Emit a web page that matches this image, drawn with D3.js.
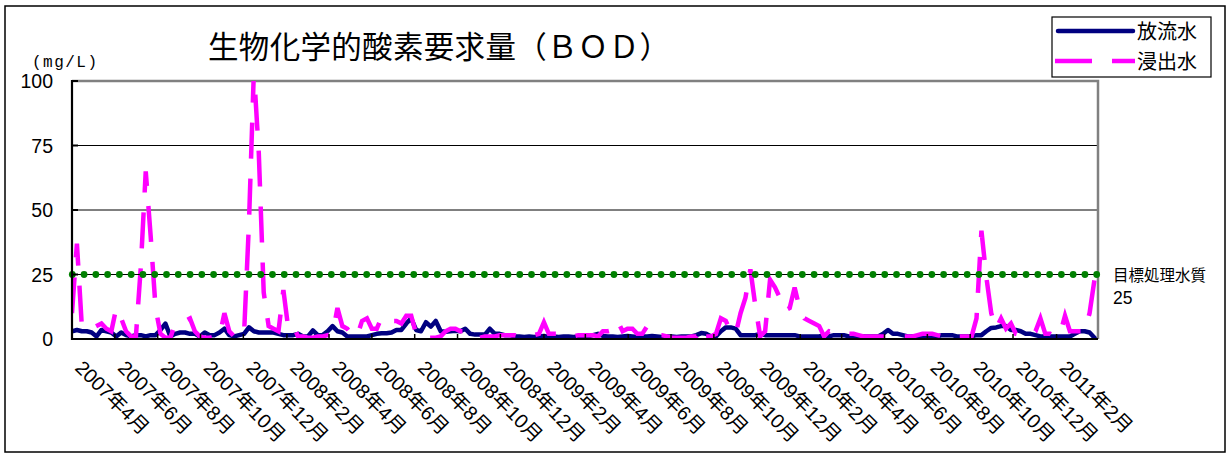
<!DOCTYPE html>
<html><head><meta charset="utf-8">
<script src="https://cdn.jsdelivr.net/npm/d3@7"></script>
<style>html,body{margin:0;padding:0;background:#fff;}svg{display:block;}</style>
</head><body>
<svg id="chart" width="1231" height="455"></svg>
<script>
// ---- data ----
const titleText = "生物化学的酸素要求量（ＢＯＤ）";
const unitText = "(mg/L)";
const seriesNames = ["放流水", "浸出水"];
const startDate = "2007-04-01";   // first weekly sample
const axisStart = "2007-04-01";
const axisEnd = "2011-04-01";
const yTicks = [0, 25, 50, 75, 100];
const xTickLabels = ["2007年4月","2007年6月","2007年8月","2007年10月","2007年12月",
  "2008年2月","2008年4月","2008年6月","2008年8月","2008年10月","2008年12月",
  "2009年2月","2009年4月","2009年6月","2009年8月","2009年10月","2009年12月",
  "2010年2月","2010年4月","2010年6月","2010年8月","2010年10月","2010年12月","2011年2月"];
const targetLabel = "目標処理水質";
const targetValue = 25;
const targetMarkerCount = 88;

// 放流水 (weekly)
const discharge = [
  3,3.5,3,3,2.5,1,3.5,3,2.5,1,
  2.5,1.5,1,1.5,1.5,1,1.5,1.5,3.5,6,
  1,2,2.5,2.5,2,2,1,2.5,1.5,1.5,
  2.5,4,1.5,1,1.5,2,4.5,3,2.5,2.5,
  2.5,2.5,2,1.5,1.5,1.5,2,1,1,3.3,
  1.5,1.5,3,5,3,2.5,1,1,1,1,
  1,1.5,2,2.2,2.2,2.5,3.5,3.5,6,8,
  3.5,3,6.5,4.8,7,3,2.8,3,3.2,3,
  4,2,1.7,1.7,1.7,4,2,2,1.5,1.5,
  1,1,0.8,1,0.8,1,1.2,0.8,1,0.8,
  1,1,0.8,1,1.2,1,1.5,2,1.2,1,
  1,0.8,1,1.2,1,0.8,1,1,1.2,1,
  0.8,1,1,0.8,1,1,1,1.5,2.3,2,
  1,1,3,4.5,4.5,4,1.5,1.5,1.5,1.5,
  2,1.5,1.5,1.5,1.5,1.5,1.5,1.5,1,1,
  1,1,1,1.5,1,1.5,1.5,1.5,1,1,
  1,1,1,1,1,2,3.5,2,2,1.5,
  1,1,1,1,1,1,1,1.5,1.5,1.5,
  1,1,1,1,1.5,1.5,3,4.3,4.5,5,
  5,3.5,3.5,3,2,2,1.5,1,1,1,
  1,1,1,1,2,3,3,2.5,0.5
];
// 浸出水 (weekly)
const leachate = [
  10,37,5,4,4,5,6,4,3,12,
  8,3,1,1,28,65,40,12,2,0.5,
  0.5,6,7,7,8,3,1,0.5,0.5,1,
  1,10,3,1,0.5,2,45,104,72,18,
  5,4,3,19,4,5,1,1,0.5,0.5,
  1,1,1.5,2,12,5,4,1.5,1,7,
  8,4,4,8.5,8.5,7,7,6,9,9,
  2,0.5,0.5,0.5,0.5,1,3,4,4,3,
  3,1,0.5,0.5,1,1,1,1.5,1.5,1.5,
  1.5,1,1,1.5,1.5,2,6.5,2,2,2,
  2,1.5,1,1.5,1.5,1.5,1.5,1,3,3,
  3.5,7,3,4,4,2,2,5,2,1.5,
  1.5,1,0.5,0.5,0.5,0.5,1,1,4.5,1,
  1,2,8,7,3,2,10,16,27,13,
  1,3,23,20,16,11,12,20,12,8,
  7,6,5,1,3,2.5,2.5,2.5,2,2,
  1.5,1,1,1,1,1,1,1,1.5,1,
  1,1,1.5,2,2,2,1.5,1,1,1.5,
  1,1,1,1,8,42,24,10,4,8,
  4,6,2,1.5,1.5,1.5,3,8,2,2,
  1,2,9,3,3,3,3,10,23
];

// ---- layout ----
const svg = d3.select("#chart");
const plot = {left: 72, right: 1098, top: 81, bottom: 339};
const parse = d3.timeParse("%Y-%m-%d");
const x = d3.scaleTime().domain([parse(axisStart), parse(axisEnd)]).range([plot.left, plot.right]);
const y = d3.scaleLinear().domain([0, 100]).range([plot.bottom, plot.top]);
const t0 = parse(startDate);
const dateOf = i => d3.timeDay.offset(t0, 7 * i);
const numFont = "'Liberation Sans', Arial, 'Noto Sans CJK JP', sans-serif";
const jpFont = "'Noto Sans CJK JP', 'Liberation Sans', sans-serif";

// outer frame
svg.append("rect").attr("x", 5).attr("y", 6).attr("width", 1220).attr("height", 446)
  .attr("fill", "#fff").attr("stroke", "#000").attr("stroke-width", 1.5);

// clip
svg.append("defs").append("clipPath").attr("id", "clip")
  .append("rect").attr("x", plot.left).attr("y", plot.top)
  .attr("width", plot.right - plot.left).attr("height", plot.bottom - plot.top);

// gridlines
svg.append("g").selectAll("line").data(yTicks.filter(v => v > 0 && v < 100)).join("line")
  .attr("x1", plot.left).attr("x2", plot.right)
  .attr("y1", d => y(d)).attr("y2", d => y(d))
  .attr("stroke", "#000").attr("stroke-width", 1);

// plot border top/right (gray)
svg.append("path")
  .attr("d", `M${plot.left},${y(100)}H${plot.right}V${plot.bottom}`)
  .attr("fill", "none").attr("stroke", "#808080").attr("stroke-width", 2.5);

// series
const g = svg.append("g").attr("clip-path", "url(#clip)");
const line = d3.line().x((d, i) => x(dateOf(i))).y(d => y(d));
g.append("path").datum(discharge).attr("d", line)
  .attr("fill", "none").attr("stroke", "#000080").attr("stroke-width", 4.5)
  .attr("stroke-linejoin", "round").attr("stroke-linecap", "round");
g.append("path").datum(leachate).attr("d", line)
  .attr("fill", "none").attr("stroke", "#ff00ff").attr("stroke-width", 4.5)
  .attr("stroke-dasharray", "36,20").attr("stroke-linejoin", "miter");

// target line with markers
const xm = d3.scaleLinear().domain([0, targetMarkerCount - 1]).range([x.range()[0] + 0.3, x.range()[1] - 1.3]);
svg.append("line").attr("x1", plot.left).attr("x2", plot.right)
  .attr("y1", y(targetValue)).attr("y2", y(targetValue))
  .attr("stroke", "#000").attr("stroke-width", 1.2);
svg.append("g").selectAll("circle").data(d3.range(targetMarkerCount)).join("circle")
  .attr("cx", d => xm(d)).attr("cy", y(targetValue)).attr("r", 3.4)
  .attr("fill", "#008000");

// axes lines
svg.append("line").attr("x1", plot.left).attr("x2", plot.left).attr("y1", plot.top - 1).attr("y2", plot.bottom + 1)
  .attr("stroke", "#000").attr("stroke-width", 2.2);
svg.append("line").attr("x1", plot.left).attr("x2", plot.right).attr("y1", plot.bottom).attr("y2", plot.bottom)
  .attr("stroke", "#000").attr("stroke-width", 2.2);

// y ticks & labels
svg.append("g").selectAll("line").data(yTicks).join("line")
  .attr("x1", plot.left).attr("x2", plot.left + 6).attr("y1", d => y(d)).attr("y2", d => y(d))
  .attr("stroke", "#000").attr("stroke-width", 2);
svg.append("g").selectAll("text").data(yTicks).join("text")
  .attr("x", 53).attr("y", d => y(d) + 7).attr("text-anchor", "end")
  .attr("font-family", numFont).attr("font-size", 19.5).attr("fill", "#000")
  .text(d => d);

// x ticks & labels
const labelDate = s => { const m = s.match(/(\d+)年(\d+)月/); return new Date(+m[1], +m[2] - 1, 1); };
svg.append("g").selectAll("line").data(xTickLabels).join("line")
  .attr("x1", d => x(labelDate(d))).attr("x2", d => x(labelDate(d)))
  .attr("y1", plot.bottom).attr("y2", plot.bottom - 5)
  .attr("stroke", "#000").attr("stroke-width", 1.5);
svg.append("g").selectAll("text").data(xTickLabels).join("text")
  .attr("transform", d => `translate(${x(labelDate(d)) + 2},369) rotate(45)`)
  .attr("font-family", numFont).attr("font-size", 19.8).attr("fill", "#000")
  .text(d => d);

// unit
svg.append("text").attr("x", 32).attr("y", 67).attr("font-family", "'Liberation Mono', monospace")
  .attr("font-size", 16).attr("textLength", 65).attr("lengthAdjust", "spacing").text(unitText);

// title
svg.append("text").attr("x", 208).attr("y", 58).attr("font-family", jpFont)
  .attr("font-size", 30.5).attr("textLength", 462).attr("lengthAdjust", "spacing").text(titleText);

// target label
svg.append("text").attr("x", 1113).attr("y", 281).attr("font-family", jpFont)
  .attr("font-size", 15.5).text(targetLabel);
svg.append("text").attr("x", 1113).attr("y", 304).attr("font-family", numFont)
  .attr("font-size", 17.5).text(targetValue);

// legend
const lg = svg.append("g");
lg.append("rect").attr("x", 1052).attr("y", 17).attr("width", 159).attr("height", 60)
  .attr("fill", "#fff").attr("stroke", "#000").attr("stroke-width", 1.2);
lg.append("line").attr("x1", 1058).attr("x2", 1133).attr("y1", 31).attr("y2", 31)
  .attr("stroke", "#000080").attr("stroke-width", 4.5).attr("stroke-linecap", "round");
lg.append("line").attr("x1", 1055).attr("x2", 1135).attr("y1", 61).attr("y2", 61)
  .attr("stroke", "#ff00ff").attr("stroke-width", 4.5).attr("stroke-dasharray", "37,20");
lg.selectAll("text.lt").data(seriesNames).join("text").attr("class", "lt")
  .attr("x", 1137).attr("y", (d, i) => 39 + i * 30)
  .attr("font-family", jpFont).attr("font-size", 20).text(d => d);
</script>
</body></html>
